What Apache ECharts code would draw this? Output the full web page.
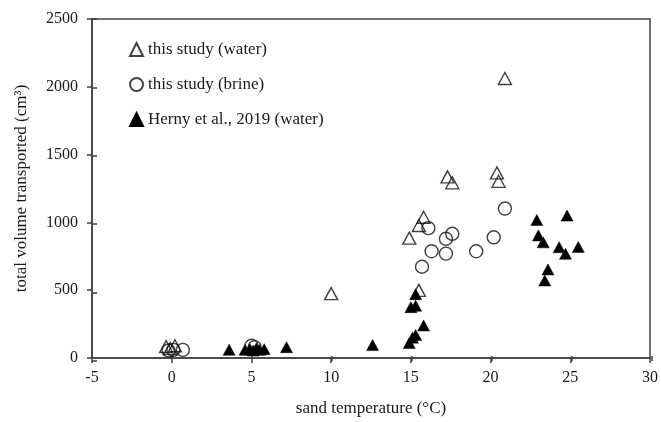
<!DOCTYPE html>
<html><head><meta charset="utf-8">
<script src="https://cdn.jsdelivr.net/npm/echarts@6/dist/echarts.min.js"></script>
<style>html,body{margin:0;padding:0;background:#fff}#c{width:661px;height:422px}</style>
</head><body><div id="c"></div>
<script>
// this study (water) - open triangles
const waterT = [-0.35, -0.1, 0.2, 10.0, 14.9, 15.5, 15.8, 15.5, 17.3, 17.6, 20.4, 20.5, 20.9];
const waterV = [85, 70, 90, 475, 884, 977, 1038, 499, 1336, 1292, 1365, 1303, 2061];
// this study (brine) - open circles
const brineT = [-0.2, 0.1, 0.7, 5.0, 5.2, 15.7, 16.1, 16.3, 17.2, 17.2, 17.6, 19.1, 20.2, 20.9];
const brineV = [55, 60, 60, 90, 80, 673, 958, 787, 879, 770, 916, 787, 890, 1102];
// Herny et al., 2019 (water) - filled triangles
const hernyT = [3.6, 4.6, 4.9, 5.1, 5.3, 5.5, 5.8, 7.2, 12.6, 14.9, 15.1, 15.3, 15.8, 15.0, 15.3, 15.3,
  22.9, 24.8, 23.0, 23.3, 24.3, 24.7, 25.5, 23.6, 23.4];
const hernyV = [60, 60, 65, 55, 70, 60, 65, 80, 95, 110, 150, 170, 240, 375, 385, 470,
  1018, 1050, 904, 853, 817, 768, 819, 653, 572];
const xTicks = {min: -5, max: 30, interval: 5};
const yTicks = {min: 0, max: 2500, interval: 500};
const seriesNames = ['this study (water)', 'this study (brine)', 'Herny et al., 2019 (water)'];

const zip = (a, b) => a.map((v, i) => [v, b[i]]);
const font = 'Liberation Serif, Times New Roman, serif';
const lineC = '#404040';
const txtC = '#1a1a1a';
const gridBox = {left: 92, right: 9, top: 19, bottom: 61};
const plain = v => String(v);

const chart = echarts.init(document.getElementById('c'), null, {renderer: 'canvas'});
chart.setOption({
  animation: false,
  backgroundColor: '#fff',
  textStyle: {fontFamily: font},
  grid: [
    Object.assign({show: true, borderColor: lineC, borderWidth: 1.5, backgroundColor: 'transparent'}, gridBox),
    Object.assign({show: false}, gridBox)
  ],
  legend: {
    orient: 'vertical', left: 124, top: 36, itemGap: 18,
    itemWidth: 13, itemHeight: 13,
    textStyle: {fontFamily: font, fontSize: 17, color: txtC},
    data: seriesNames
  },
  xAxis: [{
    type: 'value', gridIndex: 0, min: xTicks.min, max: xTicks.max, interval: xTicks.interval,
    name: 'sand temperature (°C)', nameLocation: 'middle', nameGap: 42,
    nameTextStyle: {fontFamily: font, fontSize: 17, color: txtC},
    axisLine: {show: true, onZero: false, lineStyle: {color: lineC, width: 1.5}},
    axisTick: {show: true, inside: false, length: 5, lineStyle: {color: lineC, width: 1.5}},
    axisLabel: {fontFamily: font, fontSize: 16, color: txtC, margin: 12, formatter: plain},
    splitLine: {show: false}
  }, {
    type: 'value', gridIndex: 1, position: 'bottom', min: xTicks.min, max: xTicks.max, interval: xTicks.interval,
    axisLine: {show: false, onZero: false},
    axisTick: {show: true, inside: true, length: 5, lineStyle: {color: lineC, width: 1.5}},
    axisLabel: {show: false}, splitLine: {show: false}
  }],
  yAxis: [{
    type: 'value', gridIndex: 0, min: yTicks.min, max: yTicks.max, interval: yTicks.interval,
    name: 'total volume transported (cm³)', nameLocation: 'middle', nameGap: 62,
    nameTextStyle: {fontFamily: font, fontSize: 17, color: txtC},
    axisLine: {show: true, onZero: false, lineStyle: {color: lineC, width: 1.5}},
    axisTick: {show: true, inside: false, length: 5, lineStyle: {color: lineC, width: 1.5}},
    axisLabel: {fontFamily: font, fontSize: 16, color: txtC, margin: 14, formatter: plain},
    splitLine: {show: false}
  }, {
    type: 'value', gridIndex: 1, position: 'left', min: yTicks.min, max: yTicks.max, interval: yTicks.interval,
    axisLine: {show: false, onZero: false},
    axisTick: {show: true, inside: true, length: 5, lineStyle: {color: lineC, width: 1.5}},
    axisLabel: {show: false}, splitLine: {show: false}
  }],
  series: [{
    name: seriesNames[0], type: 'scatter', xAxisIndex: 0, yAxisIndex: 0,
    symbol: 'triangle', symbolSize: [13, 12],
    itemStyle: {color: 'rgba(255,255,255,0)', borderColor: '#111', borderWidth: 1.4},
    data: zip(waterT, waterV)
  }, {
    name: seriesNames[1], type: 'scatter', xAxisIndex: 0, yAxisIndex: 0,
    symbol: 'circle', symbolSize: 13,
    itemStyle: {color: 'rgba(255,255,255,0)', borderColor: '#111', borderWidth: 1.4},
    data: zip(brineT, brineV)
  }, {
    name: seriesNames[2], type: 'scatter', xAxisIndex: 0, yAxisIndex: 0,
    symbol: 'triangle', symbolSize: [12, 11],
    itemStyle: {color: '#000', borderColor: '#000', borderWidth: 0.5, opacity: 1},
    data: zip(hernyT, hernyV)
  }]
});
</script></body></html>
